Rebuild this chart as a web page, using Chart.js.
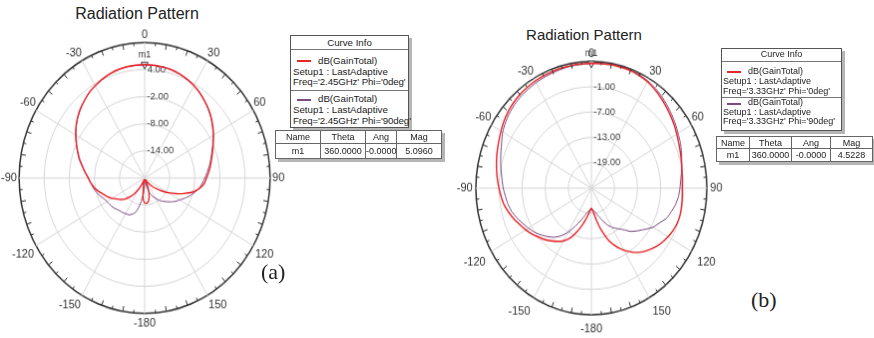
<!DOCTYPE html>
<html lang="en">
<head>
<meta charset="UTF-8">
<title>Radiation Pattern</title>
<script src="https://cdn.jsdelivr.net/npm/chart.js"></script>
<style>
  body { margin: 0; width: 874px; height: 338px; position: relative; overflow: hidden; background: #fff;
         font-family: "Liberation Sans", Arial, sans-serif; color: #222; }
  .plot { position: absolute; left: 0; top: 0; transform-origin: 0 0; line-height: 0; }
  .title { position: absolute; font-size: 16px; white-space: nowrap; transform: translate(-50%, -50%); color: #222; }
  .box { position: absolute; border: 1px solid #555; background: #fff; box-shadow: 3px 3px 0 #b5b5b5; }
  .t { position: absolute; white-space: nowrap; line-height: 1; color: #222; }
  .hr { position: absolute; height: 0; border-top: 1px solid #777; }
  .swatch { position: absolute; height: 2px; }
  table.mk { position: absolute; border-collapse: collapse; box-shadow: 3px 3px 0 #b5b5b5; background: #fff; table-layout: fixed; }
  table.mk td { border: 1px solid #666; padding: 0; text-align: center; white-space: nowrap; color: #222; overflow: hidden; }
  .cap { position: absolute; font-family: "Liberation Serif", "Times New Roman", serif; font-size: 22px; line-height: 1; }
</style>
</head>
<body>
<div class="title" style="left:137px; top:14px;">Radiation Pattern</div>
<div class="title" style="left:584px; top:34px; font-size:15px;">Radiation Pattern</div>

<div class="plot" id="wrapA"><canvas id="chartA" width="288" height="288"></canvas></div>
<div class="plot" id="wrapB"><canvas id="chartB" width="272" height="272"></canvas></div>

<!-- curve info (a) -->
<div class="box" style="left:290px; top:35px; width:117px; height:91px;"></div>
<div class="t" style="left:290px; width:119px; top:37.5px; font-size:9.7px; text-align:center;">Curve Info</div>
<div class="hr" style="left:291px; width:117px; top:49px;"></div>
<div class="swatch" style="left:297px; width:14px; top:60px; background:#e8262a;"></div>
<div class="t" style="left:318px; top:55.5px; font-size:9.7px;">dB(GainTotal)</div>
<div class="t" style="left:293px; top:66.5px; font-size:9.7px;">Setup1 : LastAdaptive</div>
<div class="t" style="left:293px; top:77px; font-size:9.7px; letter-spacing:-0.1px;">Freq='2.45GHz' Phi='0deg'</div>
<div class="hr" style="left:291px; width:117px; top:90px;"></div>
<div class="swatch" style="left:297px; width:14px; top:98.5px; background:#7a4a80;"></div>
<div class="t" style="left:318px; top:94px; font-size:9.7px;">dB(GainTotal)</div>
<div class="t" style="left:293px; top:105px; font-size:9.7px;">Setup1 : LastAdaptive</div>
<div class="t" style="left:293px; top:115.5px; font-size:9.7px; letter-spacing:-0.1px;">Freq='2.45GHz' Phi='90deg'</div>

<table class="mk" style="left:275px; top:130px; width:166px; font-size:9px;">
  <colgroup><col style="width:45px"><col style="width:45px"><col style="width:31px"><col style="width:45px"></colgroup>
  <tr style="height:13px;"><td>Name</td><td>Theta</td><td>Ang</td><td>Mag</td></tr>
  <tr style="height:15px;"><td>m1</td><td>360.0000</td><td>-0.0000</td><td>5.0960</td></tr>
</table>

<!-- curve info (b) -->
<div class="box" style="left:721px; top:48px; width:119px; height:81px;"></div>
<div class="t" style="left:721px; width:121px; top:50px; font-size:9px; text-align:center;">Curve Info</div>
<div class="hr" style="left:722px; width:119px; top:60.5px;"></div>
<div class="swatch" style="left:727px; width:14px; top:71px; background:#e8262a;"></div>
<div class="t" style="left:748px; top:66.7px; font-size:9px;">dB(GainTotal)</div>
<div class="t" style="left:723px; top:76.7px; font-size:9px;">Setup1 : LastAdaptive</div>
<div class="t" style="left:723px; top:86.7px; font-size:9px;">Freq='3.33GHz' Phi='0deg'</div>
<div class="hr" style="left:722px; width:119px; top:97px;"></div>
<div class="swatch" style="left:727px; width:14px; top:102.5px; background:#7a4a80;"></div>
<div class="t" style="left:748px; top:98.3px; font-size:9px;">dB(GainTotal)</div>
<div class="t" style="left:723px; top:107.7px; font-size:9px;">Setup1 : LastAdaptive</div>
<div class="t" style="left:723px; top:117.3px; font-size:9px;">Freq='3.33GHz' Phi='90deg'</div>

<table class="mk" style="left:716px; top:136px; width:156px; font-size:9px;">
  <colgroup><col style="width:33px"><col style="width:42px"><col style="width:39px"><col style="width:42px"></colgroup>
  <tr style="height:12px;"><td>Name</td><td>Theta</td><td>Ang</td><td>Mag</td></tr>
  <tr style="height:13px;"><td>m1</td><td>360.0000</td><td>-0.0000</td><td>4.5228</td></tr>
</table>

<div class="cap" style="left:261px; top:261px;">(a)</div>
<div class="cap" style="left:751px; top:289px;">(b)</div>

<script>
// angle categories, 5 degree steps, clockwise from the top
const angleLabels = ['0','5','10','15','20','25','30','35','40','45','50','55','60','65','70','75','80','85',
  '90','95','100','105','110','115','120','125','130','135','140','145','150','155','160','165','170','175',
  '-180','-175','-170','-165','-160','-155','-150','-145','-140','-135','-130','-125','-120','-115','-110','-105',
  '-100','-95','-90','-85','-80','-75','-70','-65','-60','-55','-50','-45','-40','-35','-30','-25','-20','-15','-10','-5'];

// (a) 2.45 GHz, dB(GainTotal)
const gainA_phi0 = [5.1,5.05,4.95,4.8,4.5,4.1,3.6,3.0,2.3,1.6,0.8,-0.1,-1.0,-1.9,-2.7,-3.4,-4.0,-4.6,
  -5.2,-5.7,-6.7,-8.0,-10.0,-11.8,-13.5,-15.0,-16.3,-17.3,-18.2,-18.9,-19.4,-19.6,-17.5,-15.8,-14.8,-14.4,
  -14.5,-15.5,-18.5,-19.6,-19.2,-18.3,-17.2,-15.8,-14.6,-13.4,-12.6,-11.9,-11.0,-10.2,-9.5,-8.6,
  -7.8,-7.1,-6.5,-5.7,-4.9,-3.9,-3.0,-2.0,-1.0,0.0,0.9,1.7,2.4,3.1,3.6,4.1,4.5,4.8,5.0,5.07];
const gainA_phi90 = [5.05,5.0,4.9,4.75,4.45,4.05,3.55,2.95,2.25,1.5,0.7,-0.2,-1.1,-2.0,-2.9,-3.6,-4.3,-5.0,
  -5.6,-6.2,-6.8,-7.6,-8.5,-9.4,-10.3,-11.0,-11.8,-12.6,-13.3,-14.0,-14.8,-15.5,-16.5,-17.8,-19.2,-19.6,
  -18.5,-16.5,-14.3,-12.3,-11.5,-11.0,-10.9,-10.7,-10.6,-10.3,-10.0,-9.8,-9.6,-9.2,-8.6,-8.0,
  -7.5,-7.1,-6.6,-5.8,-4.8,-3.8,-2.9,-2.0,-1.0,-0.05,0.85,1.65,2.35,3.05,3.55,4.05,4.45,4.75,4.95,5.02];

// (b) 3.33 GHz, dB(GainTotal)
const gainB_phi0 = [4.52,4.6,4.65,4.65,4.6,4.4,4.1,3.6,3.0,2.4,1.8,1.2,0.6,0.05,-0.4,-0.8,-1.1,-1.3,
  -1.4,-1.3,-1.2,-1.1,-1.2,-1.5,-2.0,-2.6,-3.3,-4.2,-5.2,-6.5,-8.0,-9.8,-11.8,-14.5,-17.2,-19.3,
  -20.2,-19.3,-17.8,-16.0,-14.0,-12.0,-10.6,-9.6,-8.7,-7.8,-7.0,-6.1,-5.3,-4.5,-3.6,-2.8,
  -2.0,-1.5,-1.0,-0.5,0.0,0.5,1.0,1.5,2.1,2.7,3.2,3.6,3.9,4.1,4.25,4.35,4.4,4.45,4.5,4.5];
const gainB_phi90 = [4.55,4.65,4.75,4.8,4.75,4.6,4.3,3.9,3.4,2.8,2.2,1.6,1.0,0.5,-0.1,-0.7,-1.2,-1.7,
  -2.0,-2.3,-2.8,-3.5,-4.2,-5.5,-6.5,-8.0,-9.3,-10.5,-12.2,-13.3,-14.3,-15.5,-17.0,-18.2,-19.2,-19.8,
  -20.2,-19.8,-19.2,-18.2,-16.8,-15.0,-13.0,-11.2,-9.8,-8.8,-7.8,-6.9,-6.1,-5.3,-4.4,-3.6,
  -3.0,-2.6,-2.1,-1.7,-1.2,-0.6,0.0,0.7,1.6,2.2,2.7,3.1,3.4,3.6,3.8,3.95,4.1,4.25,4.35,4.45];

// marker m1 at theta = 360 (0 deg)
const m1A = 5.096;
const m1B = 4.5228;

const RED = '#e8262a';
const PURPLE = '#7a4a80';
const FONT = '"Liberation Sans", Arial, sans-serif';
Chart.defaults.font.family = FONT;

// tick labels sit just right of the 0 deg spoke, so pad them on the left
const meas = document.createElement('canvas').getContext('2d');
function rightOfAxis(text, size) {
  meas.font = size + 'px ' + FONT;
  const tw = meas.measureText(text).width;
  const sw = meas.measureText(' ').width;
  return ' '.repeat(Math.round((tw + 5) / sw)) + text;
}

const dialPlugin = {
  id: 'dial',
  afterDraw(chart) {
    const s = chart.scales.r;
    const ctx = chart.ctx;
    const n = chart.data.labels.length;
    ctx.save();
    ctx.strokeStyle = '#333';
    ctx.lineWidth = 1;
    for (let i = 0; i < n; i++) {
      if (i % 6 === 0) continue;
      const len = i % 2 === 0 ? 5 : 3;
      const p1 = s.getPointPosition(i, s.drawingArea);
      const p2 = s.getPointPosition(i, s.drawingArea - len);
      ctx.beginPath();
      ctx.moveTo(p1.x, p1.y);
      ctx.lineTo(p2.x, p2.y);
      ctx.stroke();
    }
    // marker label
    const pt = chart.getDatasetMeta(2).data[0];
    ctx.fillStyle = '#333';
    ctx.font = '9px ' + FONT;
    ctx.textAlign = 'center';
    ctx.textBaseline = 'bottom';
    ctx.fillText('m1', pt.x, pt.y - 5);
    ctx.restore();
  }
};

// pad = [upper half, sides, lower half] gap of the angle labels
function makePolar(id, phi0, phi90, m1, rMin, rMax, pad) {
  const last = 5;
  return new Chart(document.getElementById(id), {
    type: 'radar',
    data: {
      labels: angleLabels,
      datasets: [
        { label: 'Phi=0deg', data: phi0, borderColor: RED, borderWidth: 1.4, fill: false, pointRadius: 0, tension: 0.2 },
        { label: 'Phi=90deg', data: phi90, borderColor: PURPLE, borderWidth: 1, fill: false, pointRadius: 0, tension: 0.2 },
        { label: 'm1', data: angleLabels.map((a, i) => i === 0 ? m1 : null), showLine: false,
          pointStyle: 'triangle', rotation: 180, pointRadius: 4, borderColor: '#333', borderWidth: 1,
          backgroundColor: 'rgba(255,255,255,0.9)' }
      ]
    },
    options: {
      responsive: false,
      animation: false,
      plugins: { legend: { display: false }, tooltip: { enabled: false } },
      scales: {
        r: {
          min: rMin,
          max: rMax,
          startAngle: 0,
          ticks: {
            stepSize: 6,
            showLabelBackdrop: false,
            backdropPadding: 0,
            color: '#444',
            font: { size: 9.5 },
            callback: (v) => (v === rMin || v === rMax) ? '' : rightOfAxis(v.toFixed(2), 9.5)
          },
          grid: {
            circular: true,
            color: (c) => c.index === last ? '#333' : '#d6d6d6',
            lineWidth: (c) => c.index === last ? 1.5 : 1
          },
          angleLines: {
            color: (c) => c.index % 6 === 0 ? '#d6d6d6' : 'rgba(0,0,0,0)',
            lineWidth: (c) => c.index % 6 === 0 ? 1 : 0
          },
          pointLabels: {
            padding: (c) => {
              const deg = c.index * 5;
              if (deg === 90 || deg === 270) return pad[1];
              return (deg > 90 && deg < 270) ? pad[2] : pad[0];
            },
            color: '#333',
            font: { size: 11 },
            callback: (lbl, i) => i % 6 === 0 ? lbl : ''
          }
        }
      }
    },
    plugins: [dialPlugin]
  });
}

// place a chart so its polar area lands on the target ellipse
function place(chart, wrapId, cx, cy, rh, rv) {
  const s = chart.scales.r;
  const sx = rh / s.drawingArea, sy = rv / s.drawingArea;
  const w = document.getElementById(wrapId);
  w.style.transform = `scale(${sx}, ${sy})`;
  w.style.left = (cx - sx * s.xCenter) + 'px';
  w.style.top = (cy - sy * s.yCenter) + 'px';
}

const chartA = makePolar('chartA', gainA_phi0, gainA_phi90, m1A, -20, 10, [-4.5, -2.5, -2.5]);
const chartB = makePolar('chartB', gainB_phi0, gainB_phi90, m1B, -25, 5, [-4.5, -1.5, 2]);
place(chartA, 'wrapA', 144.5, 177.5, 125.5, 135.5);
place(chartB, 'wrapB', 591.5, 188.3, 115.5, 126.7);
</script>
</body>
</html>
